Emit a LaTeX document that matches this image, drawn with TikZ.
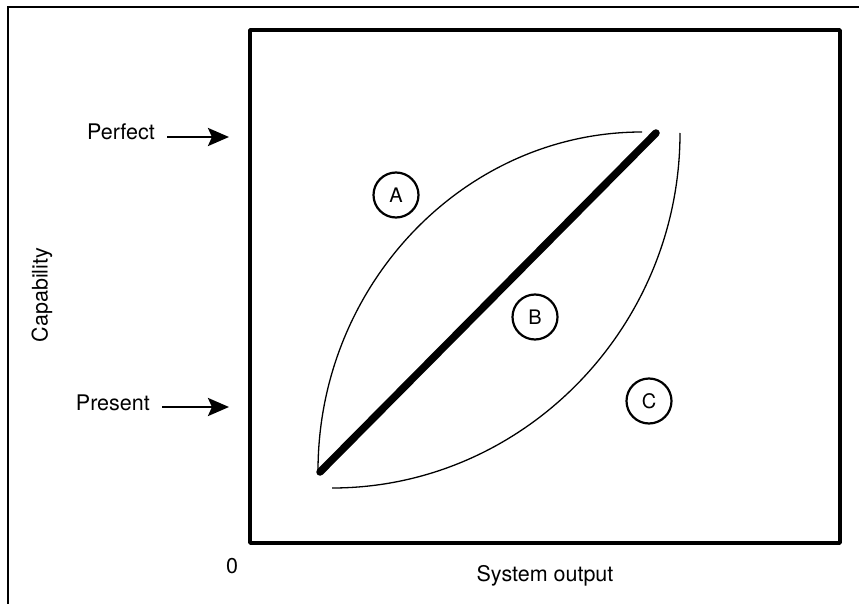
\documentclass[tikz,border=0pt]{standalone}
\usepackage{fontspec}
\setmainfont{TeX Gyre Heros}
\usetikzlibrary{arrows.meta}

\tikzset{
  lbl/.style={inner sep=0pt,font=\fontsize{21.5}{25}\selectfont},
  zone/.style={circle,draw,line width=2.2pt,minimum size=45pt,inner sep=0pt,font=\fontsize{20}{24}\selectfont},
  pointer/.style={line width=2.8pt,-{Stealth[length=21pt,width=18pt,inset=4pt]},shorten <=12pt},
  bound/.style={line width=1.3pt}
}

\begin{document}
\begin{tikzpicture}[x=1pt,y=-1pt]
\useasboundingbox (0,0) rectangle (859,604);
% outer frame and plot box
\draw[line width=1.5pt] (8,604)--(8,7)--(859,7);
\draw[line width=3.5pt,line join=round] (250,30) rectangle (840,543);
% labels and arrows
\node[lbl,anchor=base east] (perfect) at (155,140) {Perfect};
\node[lbl,anchor=base east] (present) at (150,410) {Present};
\coordinate (perfectTip) at (229,137);
\coordinate (presentTip) at (229,407);
\draw[pointer] (perfect.east |- perfectTip) -- (perfectTip);
\draw[pointer] (present.east |- presentTip) -- (presentTip);
\node[lbl,rotate=90] (capab) at (42,295) {Capability};
\node[lbl,anchor=base] (zero) at (232,573) {0};
\node[lbl,anchor=base] (sysout) at (545,581) {System output};
% curves
\coordinate (loA) at (318,471);
\coordinate (hiA) at (642,132);
\coordinate (loC) at (332,488);
\coordinate (hiC) at (680,133);
\draw[bound] (loA) .. controls (318,285) and (464,132) .. (hiA);
\draw[bound] (loC) .. controls (523,488) and (680,328) .. (hiC);
\draw[line width=7.5pt,line cap=round] (320,472) -- (656,133);
% zones
\node[zone] (zoneA) at (396,195) {A};
\node[zone] (zoneB) at (535,317) {B};
\node[zone] (zoneC) at (649,401) {C};
\end{tikzpicture}
\end{document}
